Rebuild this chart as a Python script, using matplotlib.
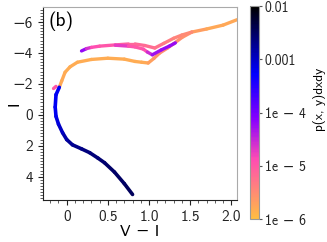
import numpy as np
import matplotlib
matplotlib.use("Agg")
import matplotlib.pyplot as plt
from matplotlib.collections import LineCollection
from matplotlib.colors import LogNorm, ListedColormap
from matplotlib.ticker import MultipleLocator

# ---- data ----
ms_x = [0.80, 0.70, 0.58, 0.46, 0.38, 0.28, 0.18, 0.07, 0.00, -0.05, -0.10, -0.13, -0.14, -0.13, -0.09]
ms_y = [5.15, 4.45, 3.70, 3.10, 2.80, 2.45, 2.20, 1.94, 1.60, 1.16, 0.60, 0.10, -0.50, -1.30, -1.78]
ms_p = [3.5e-3, 3.2e-3, 3e-3, 2.8e-3, 2.6e-3, 2.4e-3, 2.2e-3, 2e-3, 1.6e-3, 1.2e-3, 9e-4, 7e-4, 6e-4, 6e-4, 6e-4]

rgb_x = [-0.09, -0.06, -0.02, 0.04, 0.13, 0.30, 0.50, 0.70, 0.83, 0.91, 0.99, 1.06, 1.13, 1.22, 1.30, 1.40, 1.52, 1.70, 1.90, 2.07]
rgb_y = [-1.78, -2.20, -2.75, -3.10, -3.40, -3.58, -3.66, -3.60, -3.45, -3.40, -3.35, -3.65, -4.00, -4.30, -4.60, -5.00, -5.35, -5.55, -5.80, -6.15]
rgb_p = [1.6e-6, 1.6e-6, 1.5e-6, 1.5e-6, 1.5e-6, 1.5e-6, 1.5e-6, 1.5e-6, 1.5e-6, 1.5e-6, 1.6e-6, 2.5e-6, 3e-6, 3e-6, 3e-6, 3e-6, 2.5e-6, 1.8e-6, 1.6e-6, 1.6e-6]

hook_x = [-0.16, -0.13]
hook_y = [-1.70, -1.84]
hook_p = [1e-5, 1e-5]

hb_x = [0.18, 0.24, 0.30, 0.40, 0.59, 0.75, 0.83, 0.95, 1.07, 1.18, 1.30, 1.40, 1.52]
hb_y = [-4.13, -4.28, -4.36, -4.44, -4.52, -4.58, -4.58, -4.48, -4.32, -4.62, -4.95, -5.16, -5.35]
hb_p = [1e-4, 4e-5, 1.5e-5, 1.1e-5, 1e-5, 8e-6, 7e-6, 7e-6, 6e-6, 5e-6, 4e-6, 3.5e-6, 3e-6]

agb_x = [0.59, 0.75, 0.83, 0.93, 0.98, 1.04, 1.15, 1.25, 1.32]
agb_y = [-4.50, -4.44, -4.39, -4.25, -4.06, -3.88, -4.20, -4.45, -4.65]
agb_p = [3e-5, 1.2e-5, 1e-5, 1e-5, 1.5e-5, 5e-5, 6e-5, 6e-5, 6e-5]

cbar_ticks = [1e-6, 1e-5, 1e-4, 1e-3, 1e-2]
cbar_labels = ["1e − 6", "1e − 5", "1e − 4", "0.001", "0.01"]

# ---- figure ----
plt.rcParams['font.family'] = ['cmss10', 'DejaVu Sans']
plt.rcParams['axes.formatter.use_mathtext'] = False
fig = plt.figure(figsize=(3.27, 2.42), dpi=100)
ax = fig.add_axes([0.131, 0.174, 0.594, 0.797])
cax = fig.add_axes([0.765, 0.095, 0.027, 0.880])

base = plt.get_cmap('gnuplot2')
cmap = ListedColormap(base(np.linspace(0.79, 0.0, 256)))
norm = LogNorm(vmin=1e-6, vmax=1e-2)

def track(xs, ys, ps, lw=2.4):
    pts = np.column_stack([xs, ys])
    segs = np.stack([pts[:-1], pts[1:]], axis=1)
    vals = np.sqrt(np.array(ps[:-1]) * np.array(ps[1:]))
    lc = LineCollection(segs, cmap=cmap, norm=norm, linewidths=lw, capstyle='round', joinstyle='round')
    lc.set_array(vals)
    ax.add_collection(lc)
    return lc

track(rgb_x, rgb_y, rgb_p)
track(hb_x, hb_y, hb_p)
track(agb_x, agb_y, agb_p)
track(hook_x, hook_y, hook_p)
lc = track(ms_x, ms_y, ms_p, lw=2.6)

ax.set_xlim(-0.29, 2.07)
ax.set_ylim(5.5, -6.97)
ax.xaxis.set_minor_locator(MultipleLocator(0.1))
ax.yaxis.set_minor_locator(MultipleLocator(0.2))
ax.set_xticks([0, 0.5, 1.0, 1.5, 2.0])
ax.set_xticklabels(["0", "0.5", "1.0", "1.5", "2.0"])
ax.set_yticks([-6, -4, -2, 0, 2, 4])
ax.set_yticklabels(["−6", "−4", "−2", "0", "2", "4"])
ax.tick_params(which='major', labelsize=11, length=3.5, width=0.8, colors='#222222', labelcolor='#222222')
ax.tick_params(which='minor', length=2, width=0.6, colors='#444444')
for s in ['top', 'right']:
    ax.spines[s].set_color('#aaaaaa')
for s in ['left', 'bottom']:
    ax.spines[s].set_color('#222222')
ax.set_xlabel("V − I", fontsize=11.5, labelpad=1)
ax.set_ylabel("I", fontsize=11.5, va='center')
ax.yaxis.set_label_coords(-0.145, 0.5)
ax.text(0.03, 0.975, "(b)", transform=ax.transAxes, fontsize=14, va='top', ha='left')

cb = fig.colorbar(lc, cax=cax)
cb.set_ticks(cbar_ticks)
cb.set_ticklabels(cbar_labels)
cb.minorticks_off()
cb.outline.set_edgecolor('#999999')
cb.ax.tick_params(labelsize=10, length=2, pad=2, colors='#555555', labelcolor='#222222')
cb.set_label("p(x, y)dxdy", fontsize=9.5, va='center')
cb.ax.yaxis.set_label_coords(7.8, 0.56)

fig.savefig("out.png", dpi=100)
